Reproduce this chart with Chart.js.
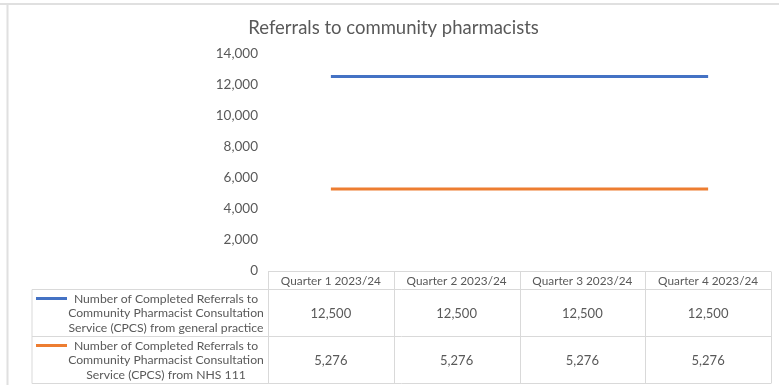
<!DOCTYPE html>
<html>
<head>
  <title>Referrals to community pharmacists</title>
  <script src="https://cdn.jsdelivr.net/npm/chart.js"></script>
  <style>
    html, body {
      margin: 0;
      padding: 0;
      background: white;
    }
    #wrap {
      width: 779px;
      height: 385px;
    }
  </style>
</head>
<body>
  <div id="wrap">
    <canvas id="referralsChart" width="779" height="385"></canvas>
  </div>

  <script>
    const quarters = ['Quarter 1 2023/24', 'Quarter 2 2023/24', 'Quarter 3 2023/24', 'Quarter 4 2023/24'];
    const gpReferrals = [12500, 12500, 12500, 12500];
    const nhs111Referrals = [5276, 5276, 5276, 5276];
    const gpLabel = ['Number of Completed Referrals to', 'Community Pharmacist Consultation', 'Service (CPCS) from general practice'];
    const nhs111Label = ['Number of Completed Referrals to', 'Community Pharmacist Consultation', 'Service (CPCS) from NHS 111'];

    const FONT = 'Lato, "Liberation Sans", sans-serif';
    const TEXT = '#595959';
    const RULE = '#d9d9d9';

    // frame lines around the sheet and the data table under the plot
    const dataTable = {
      id: 'dataTable',
      beforeDraw(chart) {
        const c = chart.ctx;
        c.save();
        c.strokeStyle = '#e0e0e0';
        c.lineWidth = 2;
        c.beginPath();
        c.moveTo(0, 4);
        c.lineTo(chart.width, 4);
        c.moveTo(7.5, 4);
        c.lineTo(7.5, chart.height);
        c.stroke();
        c.restore();
      },
      afterDraw(chart) {
        const c = chart.ctx;
        const area = chart.chartArea;
        const x = chart.scales.x;
        const colW = (area.right - area.left) / quarters.length;
        const tableLeft = 32;
        const headTop = area.bottom + 0.5;
        const headBottom = headTop + 18;
        const rowH = 47;
        const rows = [
          { label: gpLabel, values: gpReferrals, color: chart.data.datasets[0].borderColor },
          { label: nhs111Label, values: nhs111Referrals, color: chart.data.datasets[1].borderColor }
        ];
        const tableBottom = headBottom + rowH * rows.length;

        c.save();
        c.strokeStyle = RULE;
        c.lineWidth = 1;
        c.beginPath();
        // header row
        c.moveTo(area.left, headTop);
        c.lineTo(area.right, headTop);
        c.moveTo(tableLeft, headBottom);
        c.lineTo(area.right, headBottom);
        for (let r = 1; r <= rows.length; r++) {
          const y = headBottom + rowH * r;
          c.moveTo(tableLeft, y);
          c.lineTo(area.right, y);
        }
        c.moveTo(tableLeft, headBottom);
        c.lineTo(tableLeft, tableBottom);
        for (let i = 0; i <= quarters.length; i++) {
          const xx = Math.round(area.left + colW * i) + 0.5;
          c.moveTo(xx, headTop);
          c.lineTo(xx, tableBottom);
        }
        c.stroke();

        c.fillStyle = TEXT;
        c.textAlign = 'center';
        c.textBaseline = 'middle';
        c.font = '11.8px ' + FONT;
        quarters.forEach((q, i) => {
          c.fillText(q, x.getPixelForValue(i), (headTop + headBottom) / 2 + 1);
        });

        rows.forEach((row, r) => {
          const top = headBottom + rowH * r;
          const mid = top + rowH / 2;
          c.font = '13px ' + FONT;
          row.values.forEach((v, i) => {
            c.fillText(v.toLocaleString('en-GB'), x.getPixelForValue(i), mid + 1);
          });
          // legend key
          c.strokeStyle = row.color;
          c.lineWidth = 3;
          c.beginPath();
          c.moveTo(36, top + 9);
          c.lineTo(67, top + 9);
          c.stroke();
          c.font = '12.2px ' + FONT;
          row.label.forEach((line, k) => {
            c.fillText(line, 166, top + 9.5 + k * 14.5);
          });
        });
        c.restore();
      }
    };

    const ctx = document.getElementById('referralsChart').getContext('2d');
    const referralsChart = new Chart(ctx, {
      type: 'line',
      data: {
        labels: quarters,
        datasets: [{
          label: gpLabel.join(' '),
          data: gpReferrals,
          borderColor: '#4472c4',
          borderWidth: 3,
          pointRadius: 0,
          tension: 0
        }, {
          label: nhs111Label.join(' '),
          data: nhs111Referrals,
          borderColor: '#ed7d31',
          borderWidth: 3,
          pointRadius: 0,
          tension: 0
        }]
      },
      options: {
        responsive: false,
        animation: false,
        layout: {
          padding: { left: 16, right: 8, top: 0, bottom: 114 }
        },
        scales: {
          x: {
            display: false,
            offset: true
          },
          y: {
            min: 0,
            max: 14000,
            afterFit(scale) { scale.width = 252; },
            grid: { display: false },
            border: { display: false },
            ticks: {
              stepSize: 2000,
              padding: 2,
              color: TEXT,
              font: { family: FONT, size: 13.5 },
              callback: v => v.toLocaleString('en-GB')
            }
          }
        },
        plugins: {
          legend: { display: false },
          tooltip: { enabled: false },
          title: {
            display: true,
            text: 'Referrals to community pharmacists',
            color: TEXT,
            font: { family: FONT, size: 18.5, weight: 'normal' },
            padding: { top: 17, bottom: 14 }
          }
        }
      },
      plugins: [dataTable]
    });
  </script>
</body>
</html>
